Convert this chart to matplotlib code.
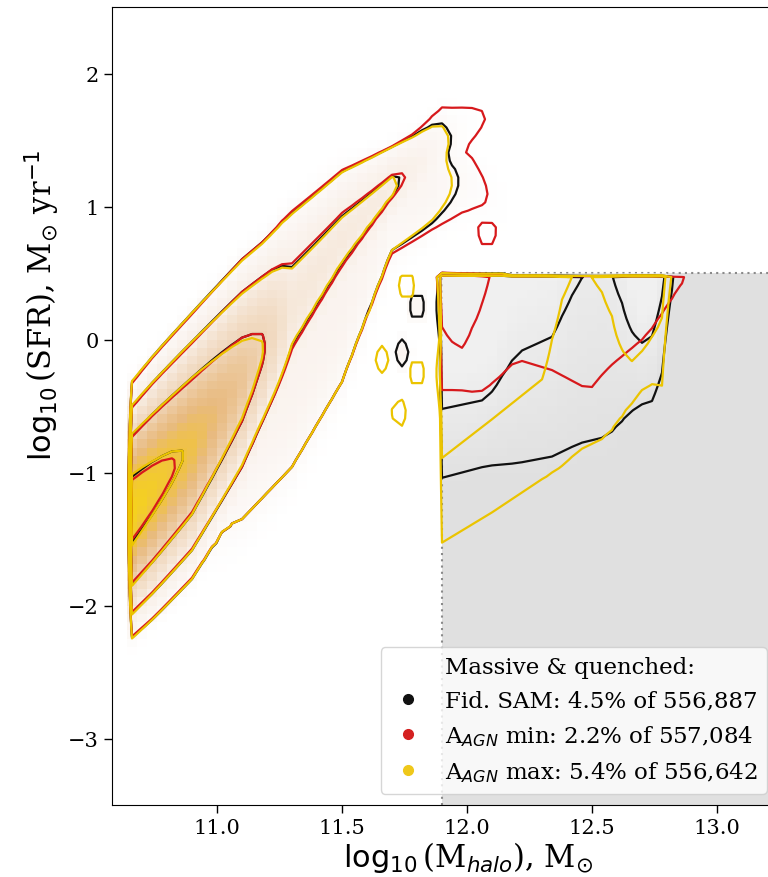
import numpy as np
import matplotlib
matplotlib.use("Agg")
import matplotlib.pyplot as plt
from matplotlib.colors import LinearSegmentedColormap
from matplotlib.lines import Line2D
from matplotlib.patches import Rectangle

plt.rcParams['font.family'] = 'serif'
plt.rcParams['font.serif'] = ['DejaVu Serif']
plt.rcParams['mathtext.fontset'] = 'dejavusans'

# ---- star-forming sequence (ridge nodes in halo mass) ----
ms_x = [10.65, 10.75, 10.90, 11.10, 11.20, 11.30, 11.50, 11.70, 11.80, 11.90, 12.00, 12.10]
ms_mu = [-1.30, -1.10, -0.80, -0.30, -0.02, 0.25, 0.75, 1.15, 1.30, 1.45, 1.60, 1.70]
ms_scale = [0.47, 0.50, 0.53, 0.54, 0.52, 0.60, 0.46, 0.28, 0.28, 0.40, 0.30, 0.30]
# peak log-density per run, in units of contour level
ms_peak_fid = [4.35, 4.20, 3.95, 3.40, 3.00, 2.30, 2.20, 2.12, 1.80, 1.25, 0.60, 0.20]
ms_peak_min = [4.30, 4.15, 3.90, 3.40, 3.00, 2.35, 2.25, 2.15, 1.90, 1.60, 1.30, 0.90]
ms_peak_max = [4.40, 4.20, 3.95, 3.35, 2.95, 2.28, 2.18, 2.10, 1.75, 1.20, 0.50, 0.10]

# ---- green-valley tail below the sequence ----
gv_x = [10.90, 11.10, 11.30, 11.50, 11.70, 11.85, 12.00, 12.15]
gv_mu = [-1.20, -0.75, -0.30, 0.30, 1.00, 1.15, 1.20, 1.00]
gv_scale = [0.70, 0.85, 0.85, 0.80, 0.60, 0.50, 0.45, 0.40]
gv_peak_fid = [1.20, 1.50, 1.60, 1.60, 1.30, 1.35, 0.90, 0.50]
gv_peak_min = [1.20, 1.50, 1.60, 1.60, 1.35, 1.45, 1.25, 0.80]
gv_peak_max = [1.20, 1.50, 1.60, 1.60, 1.30, 1.30, 0.80, 0.40]

# ---- isolated clumps between the sequence and the quenched block ----
isl_x_fid = [11.74, 11.80, 11.57, 11.45]
isl_y_fid = [-0.10, 0.25, 0.62, 0.95]
isl_x_min = [11.50, 11.96, 12.08, 11.62]
isl_y_min = [0.02, 0.30, 0.80, 0.55]
isl_x_max = [11.57, 11.66, 11.80, 11.76, 11.45, 11.73]
isl_y_max = [0.25, -0.15, -0.25, 0.40, 0.55, -0.55]

# ---- massive & quenched block: depth below SFR cap of outer / inner contour ----
q_cap = 0.5
q_xmin = 11.88
q_x_fid = [11.88, 12.08, 12.20, 12.34, 12.45, 12.56, 12.68, 12.76, 12.80, 12.84, 12.92]
q_outer_fid = [1.55, 1.45, 1.43, 1.38, 1.28, 1.23, 1.00, 0.95, 0.55, -0.30, -0.60]
q_inner_fid = [1.03, 0.95, 0.60, 0.48, 0.05, -0.10, 0.55, 0.45, -0.10, -0.60, -0.90]
q_x_min = [11.88, 11.97, 12.05, 12.12, 12.20, 12.34, 12.49, 12.56, 12.72, 12.80, 12.87, 12.93]
q_outer_min = [0.88, 0.88, 0.90, 0.80, 0.65, 0.73, 0.88, 0.72, 0.47, 0.25, 0.05, -0.30]
q_inner_min = [0.35, 0.60, 0.30, -0.20, -0.30, -0.30, -0.30, -0.30, -0.30, -0.30, -0.30, -0.60]
q_x_max = [11.88, 12.10, 12.30, 12.38, 12.45, 12.56, 12.64, 12.72, 12.79, 12.83, 12.92]
q_outer_max = [2.05, 1.80, 1.55, 1.45, 1.33, 1.23, 1.03, 0.83, 0.85, -0.30, -0.60]
q_inner_max = [1.42, 1.10, 0.80, 0.20, -0.10, 0.20, 0.70, 0.55, 0.30, -0.60, -0.90]

levels = [1, 2, 3, 4]

run_names = ['Fid. SAM: 4.5% of 556,887',
             r'A$_{AGN}$ min: 2.2% of 557,084',
             r'A$_{AGN}$ max: 5.4% of 556,642']
run_colors = ['#111111', '#d7191c', '#ebc400']
dot_colors = ['#111111', '#d42020', '#efc81a']

# histogram binning
x_edges = np.arange(10.60, 13.40 + 1e-9, 0.04)
y_edges = np.arange(-3.5, 2.5 + 1e-9, 0.0625)
xc = 0.5 * (x_edges[1:] + x_edges[:-1])
yc = 0.5 * (y_edges[1:] + y_edges[:-1])
X, Y = np.meshgrid(xc, yc)
in_block = (X >= q_xmin) & (Y <= q_cap)


def sequence_field(peak, gv_peak, isl_x, isl_y):
    mu = np.interp(X, ms_x, ms_mu)
    s = np.interp(X, ms_x, ms_scale)
    a = np.interp(X, ms_x, peak, right=-3)
    f = a - (np.abs(Y - mu) / s) ** 1.7
    g_mu = np.interp(X, gv_x, gv_mu)
    g_s = np.interp(X, gv_x, gv_scale)
    g_a = np.interp(X, gv_x, gv_peak, left=-3, right=-3)
    f = np.maximum(f, g_a - ((Y - g_mu) / g_s) ** 2)
    for cx, cy in zip(isl_x, isl_y):
        f = np.maximum(f, 1.5 - ((X - cx) / 0.045) ** 2 - ((Y - cy) / 0.15) ** 2)
    f[X < 10.65] = -5
    f[in_block] = -5
    return f


def quenched_field(qx, outer, inner):
    do = np.interp(X, qx, outer)
    di = np.interp(X, qx, inner)
    sq = do - di
    top = 1 + do / sq
    f = top - (q_cap - Y) / sq
    f = np.minimum(f, 2.6)
    f[~in_block] = -5
    return f


seq = [sequence_field(ms_peak_fid, gv_peak_fid, isl_x_fid, isl_y_fid),
       sequence_field(ms_peak_min, gv_peak_min, isl_x_min, isl_y_min),
       sequence_field(ms_peak_max, gv_peak_max, isl_x_max, isl_y_max)]
blk = [quenched_field(q_x_fid, q_outer_fid, q_inner_fid),
       quenched_field(q_x_min, q_outer_min, q_inner_min),
       quenched_field(q_x_max, q_outer_max, q_inner_max)]
fields = [np.maximum(s, b) for s, b in zip(seq, blk)]

fig = plt.figure(figsize=(7.68, 8.78), dpi=100)
ax = fig.add_axes([112 / 768, 72 / 878, 666 / 768, 798 / 878])

# massive & quenched selection
ax.add_patch(Rectangle((q_xmin + 0.02, -3.6), 2.0, 3.6 + q_cap, facecolor='#e0e0e0',
                       edgecolor='#8a8a8a', linestyle=(0, (1, 2)), linewidth=1.5, zorder=0))

# 2d histogram of the fiducial run
hist_cmap = LinearSegmentedColormap.from_list('sfr_hist', [
    (0.00, (1, 1, 1, 0)),
    (0.17, (0.99, 0.975, 0.965, 0.85)),
    (0.40, (0.975, 0.94, 0.91, 1)),
    (0.64, (0.94, 0.84, 0.73, 1)),
    (0.80, (0.91, 0.73, 0.50, 1)),
    (0.88, (0.94, 0.76, 0.26, 1)),
    (1.00, (0.97, 0.85, 0.05, 1)),
])
ax.pcolormesh(x_edges, y_edges, seq[0], cmap=hist_cmap, vmin=0.3, vmax=4.5, zorder=1)
block_cmap = LinearSegmentedColormap.from_list('block_hist', [(1, 1, 1, 0), (1, 1, 1, 0.55)])
ax.pcolormesh(x_edges, y_edges, np.where(in_block, blk[0], np.nan), cmap=block_cmap,
              vmin=0.8, vmax=2.6, zorder=1)

for field, col in zip(fields, run_colors):
    ax.contour(xc, yc, field, levels=levels, colors=col, linewidths=1.6, zorder=3)

ax.set_xlim(10.58, 13.244)
ax.set_ylim(-3.5, 2.5)
ax.set_xticks([11.0, 11.5, 12.0, 12.5, 13.0])
ax.set_yticks([-3, -2, -1, 0, 1, 2])
ax.tick_params(labelsize=15, length=6, width=1)

ax.set_xlabel(r'$\log_{10}$(M$_{halo}$), M$_{\odot}$', fontsize=22, labelpad=1,
              x=(468 - 112) / 666)
ax.set_ylabel(r'$\log_{10}$(SFR), M$_{\odot}$ yr$^{-1}$', fontsize=22, y=0.628)

handles = [Line2D([], [], linestyle='none', marker=None)]
labels = ['Massive & quenched:']
for name, col in zip(run_names, dot_colors):
    handles.append(Line2D([], [], linestyle='none', marker='o', markersize=7, color=col))
    labels.append(name)
ax.legend(handles, labels, loc='lower right', fontsize=16.5, handletextpad=0.8,
          borderpad=0.4, labelspacing=0.5, handlelength=1.6)

fig.savefig('out.png', dpi=100)
